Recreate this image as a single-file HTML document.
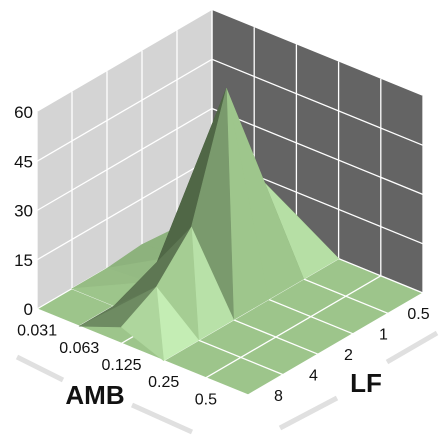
<!DOCTYPE html>
<html><head><meta charset="utf-8"><style>
html,body{margin:0;padding:0;background:#fff;}
svg{display:block;font-family:"Liberation Sans",sans-serif;}
</style></head><body>
<svg id="chart" width="448" height="448" viewBox="0 0 448 448" xmlns="http://www.w3.org/2000/svg">
<g id="walls"></g>
<g id="floor"></g>
<g id="surface"></g>
<g id="labels"></g>
<line x1="17" y1="357" x2="63" y2="380" stroke="#e0e0e0" stroke-width="5"/>
<line x1="132" y1="405" x2="192" y2="432" stroke="#e0e0e0" stroke-width="5"/>
<line x1="280" y1="428" x2="337" y2="398" stroke="#e0e0e0" stroke-width="5"/>
<line x1="387" y1="362" x2="437" y2="333" stroke="#e0e0e0" stroke-width="5"/>
<text x="95" y="404" font-size="26" font-weight="bold" text-anchor="middle" fill="#111">AMB</text>
<text x="366" y="392" font-size="26" font-weight="bold" text-anchor="middle" fill="#111">LF</text>
</svg>
<script>
const ambLabels = ["0.031","0.063","0.125","0.25","0.5"];
const lfLabels = ["0.5","1","2","4","8"];
const zTicks = [0,15,30,45,60];
// surface heights at grid nodes: row = AMB node (0..5), col = LF node (0..5)
const zRow0 = [0,0,1,0,0,0];
const zRow1 = [0,2,3,1,0,0];
const zRow2 = [8,25,59,23,11,5];
const zRow3 = [0,0,0,0,0,0];
const zRow4 = [0,0,0,0,0,0];
const zRow5 = [0,0,0,0,0,0];
const zGrid = [zRow0,zRow1,zRow2,zRow3,zRow4,zRow5];

const NS="http://www.w3.org/2000/svg";
const BX=212, BY=207, UP=[42.2,17.2], VQ=[-35,20.4], ZMAX=60, ZPX=197;
function P(p,q,z){return [BX+p*UP[0]+q*VQ[0], BY+p*UP[1]+q*VQ[1]-z*ZPX/ZMAX];}
function pts(a){return a.map(v=>v[0].toFixed(1)+","+v[1].toFixed(1)).join(" ");}
function mk(tag,attrs,parent){const e=document.createElementNS(NS,tag);for(const k in attrs)e.setAttribute(k,attrs[k]);parent.appendChild(e);return e;}
const walls=document.getElementById('walls'), floor=document.getElementById('floor'), surf=document.getElementById('surface'), labels=document.getElementById('labels');

let lw=mk('polygon',{points:pts([P(0,5,0),P(0,0,0),P(0,0,ZMAX),P(0,5,ZMAX)]),fill:'#d4d4d4'},walls);


let rw=mk('polygon',{points:pts([P(0,0,0),P(5,0,0),P(5,0,ZMAX),P(0,0,ZMAX)]),fill:'#646464'},walls);


for(let i=0;i<=5;i++){
  let a=P(0,i,0),b=P(0,i,ZMAX);
  let l=mk('line',{x1:a[0],y1:a[1],x2:b[0],y2:b[1],stroke:'#fff','stroke-width':1.3},walls);
  
  
  a=P(i,0,0);b=P(i,0,ZMAX);
  l=mk('line',{x1:a[0],y1:a[1],x2:b[0],y2:b[1],stroke:'#fff','stroke-width':1.3},walls);
  
  
}
zTicks.forEach(t=>{
  if(t===0||t===ZMAX)return;
  let a=P(0,5,t),b=P(0,0,t),c=P(5,0,t);
  let l=mk('polyline',{points:pts([a,b,c]),fill:'none',stroke:'#fff','stroke-width':1.3},walls);
  
  
});
zTicks.forEach(t=>{
  let a=P(0,5,t);
  let tx=mk('text',{x:33,y:a[1]+6,'font-size':17,'text-anchor':'end',fill:'#111'},labels);
  tx.textContent=t;
  
  
});
let fl=mk('polygon',{points:pts([P(0,0,0),P(5,0,0),P(5,5,0),P(0,5,0)]),fill:'#9dc58b'},floor);


for(let i=0;i<=5;i++){
  let a=P(i,0,0),b=P(i,5,0);
  let l=mk('line',{x1:a[0],y1:a[1],x2:b[0],y2:b[1],stroke:'#fff','stroke-width':1.3},floor);
  
  
  a=P(0,i,0);b=P(5,i,0);
  l=mk('line',{x1:a[0],y1:a[1],x2:b[0],y2:b[1],stroke:'#fff','stroke-width':1.3},floor);
  
  
}
ambLabels.forEach((s,i)=>{
  let a=P(i+0.5,5,0);
  let tx=mk('text',{x:a[0]-21,y:a[1]+18,'font-size':16,'text-anchor':'middle',fill:'#111'},labels);
  tx.textContent=s;
  
  
});
lfLabels.forEach((s,i)=>{
  let a=P(5,i+0.5,0);
  let tx=mk('text',{x:a[0]+13,y:a[1]+16,'font-size':16,'text-anchor':'middle',fill:'#111'},labels);
  tx.textContent=s;
  
  
});
const L=[0.48,0,0.6];
const stops=[[-0.3,[63,82,54]],[0.37,[110,139,98]],[0.6,[157,197,139]],[0.77,[196,237,180]],[1.0,[205,245,190]]];
function shade(b){
  if(b<=stops[0][0])return stops[0][1];
  for(let i=1;i<stops.length;i++){if(b<=stops[i][0]){const [b0,c0]=stops[i-1],[b1,c1]=stops[i];const t=(b-b0)/(b1-b0);return c0.map((v,k)=>Math.round(v+(c1[k]-v)*t));}}
  return stops[stops.length-1][1];
}
const tris=[];
for(let p=0;p<5;p++)for(let q=0;q<5;q++){
  const z00=zGrid[p][q],z10=zGrid[p+1][q],z01=zGrid[p][q+1],z11=zGrid[p+1][q+1];
  const A=[p,q,z00],Bv=[p+1,q,z10],C=[p,q+1,z01],D=[p+1,q+1,z11];
  if(z00+z11>=z10+z01){tris.push([A,Bv,D]);tris.push([A,C,D]);}
  else{tris.push([A,Bv,C]);tris.push([Bv,C,D]);}
}
tris.forEach(t=>t.d=t.reduce((s,v)=>s+v[0]+v[1],0)/3);
tris.sort((a,b)=>a.d-b.d);
tris.forEach(t=>{
  if(t.every(v=>v[2]===0))return;
  const w=t.map(v=>[v[0]*45,v[1]*45,v[2]*ZPX/ZMAX]);
  const e1=[w[1][0]-w[0][0],w[1][1]-w[0][1],w[1][2]-w[0][2]];
  const e2=[w[2][0]-w[0][0],w[2][1]-w[0][1],w[2][2]-w[0][2]];
  let n=[e1[1]*e2[2]-e1[2]*e2[1],e1[2]*e2[0]-e1[0]*e2[2],e1[0]*e2[1]-e1[1]*e2[0]];
  if(n[2]<0)n=n.map(v=>-v);
  const len=Math.hypot(...n);n=n.map(v=>v/len);
  const b=n[0]*L[0]+n[1]*L[1]+n[2]*L[2];
  const c=shade(b);
  const col='rgb('+c.join(',')+')';
  const poly=mk('polygon',{points:pts(t.map(v=>P(v[0],v[1],v[2]))),fill:col,stroke:col,'stroke-width':0.6,'stroke-linejoin':'round'},surf);
  
  
});
</script>
</body></html>
